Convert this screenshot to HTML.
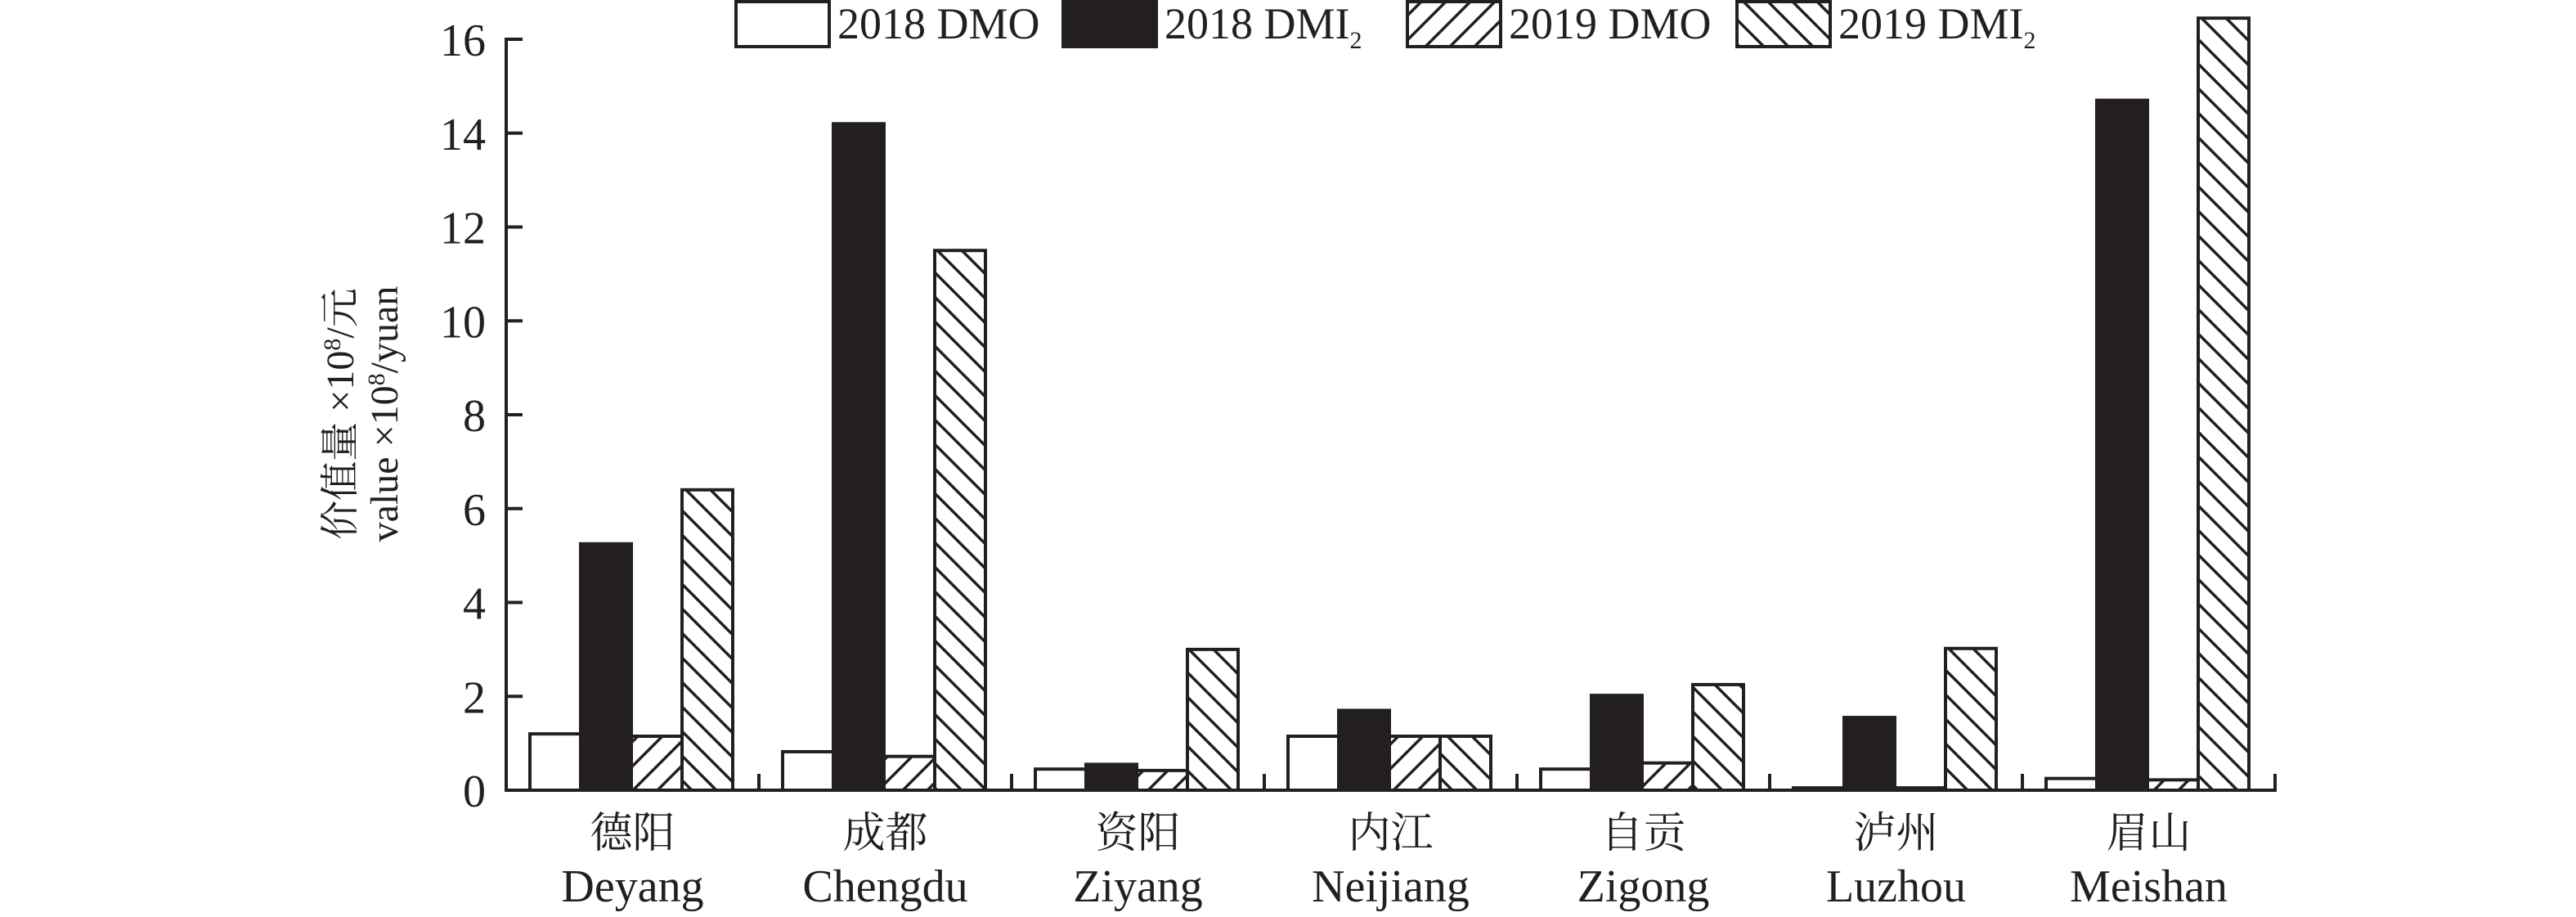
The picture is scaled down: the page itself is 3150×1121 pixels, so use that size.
<!DOCTYPE html>
<html><head><meta charset="utf-8"><style>
html,body{margin:0;padding:0;background:#fff;}
svg{display:block;}
text{font-family:"Liberation Serif","Noto Serif CJK SC",serif;fill:#231f20;}
</style></head><body>
<svg id="chart" width="3150" height="1121" viewBox="0 0 3150 1121">
<defs>
<pattern id="hatchF" patternUnits="userSpaceOnUse" width="30" height="30">
<path d="M-8,8 L8,-8 M0,30 L30,0 M22,38 L38,22" stroke="#231f20" stroke-width="3.5"/>
</pattern>
<pattern id="hatchB" patternUnits="userSpaceOnUse" width="30" height="30">
<path d="M-8,22 L8,38 M0,0 L30,30 M22,-8 L38,8" stroke="#231f20" stroke-width="3.5"/>
</pattern>
</defs>
<g id="plot"></g>
</svg>
<script>
const categoriesZh = ["德阳","成都","资阳","内江","自贡","泸州","眉山"];
const categoriesEn = ["Deyang","Chengdu","Ziyang","Neijiang","Zigong","Luzhou","Meishan"];
const dmo2018 = [1.2, 0.82, 0.45, 1.15, 0.45, 0.05, 0.25];
const dmi2018 = [5.25, 14.2, 0.55, 1.7, 2.02, 1.55, 14.7];
const dmo2019 = [1.15, 0.72, 0.42, 1.15, 0.58, 0.05, 0.22];
const dmi2019 = [6.4, 11.5, 3.0, 1.15, 2.25, 3.02, 16.45];
const yTicks = [0,2,4,6,8,10,12,14,16];

const NS="http://www.w3.org/2000/svg";
const g=document.getElementById('plot');
const X0=619, X1=2782, Y0=966, Y16=48;
const catW=(X1-X0)/categoriesZh.length;
function y(v){return Y0-(v/16)*(Y0-Y16);}
function mk(t,a,p){const e=document.createElementNS(NS,t);for(const k in a)e.setAttribute(k,a[k]);(p||g).appendChild(e);return e;}

const series=[
 {vals:dmo2018,fill:"#fff",name:"2018-dmo"},
 {vals:dmi2018,fill:"#231f20",name:"2018-dmi2"},
 {vals:dmo2019,fill:"url(#hatchF)",name:"2019-dmo"},
 {vals:dmi2019,fill:"url(#hatchB)",name:"2019-dmi2"}];
const barW=62, grpOff=29;
categoriesZh.forEach((c,i)=>{
  const cx=X0+i*catW;
  series.forEach((s,j)=>{
    const v=s.vals[i];
    const r=mk('rect',{x:cx+grpOff+j*barW,y:y(v),width:barW,height:Y0-y(v),fill:s.fill,stroke:"#231f20","stroke-width":4});
    
    
  });
  const t1=mk('text',{x:cx+catW/2,y:1036,'text-anchor':'middle','font-size':52});
  t1.textContent=c;
  
  
  const t2=mk('text',{x:cx+catW/2,y:1102,'text-anchor':'middle','font-size':56});
  t2.textContent=categoriesEn[i];
  
  
  if(i>0){const tk=mk('line',{x1:cx,x2:cx,y1:Y0,y2:Y0-20,stroke:"#231f20","stroke-width":4});
    
    }
});
const ax=mk('path',{d:`M${X0},${Y16-2} L${X0},${Y0} L${X1},${Y0} L${X1},${Y0-20}`,fill:"none",stroke:"#231f20","stroke-width":4});


yTicks.forEach(v=>{
  const l=mk('line',{x1:X0,x2:X0+20,y1:y(v),y2:y(v),stroke:"#231f20","stroke-width":4});
  
  
  const t=mk('text',{x:594,y:y(v)+20,'text-anchor':'end','font-size':56});
  t.textContent=v;
  
  
});
const yt=mk('text',{transform:'translate(432,506) rotate(-90)','text-anchor':'middle','font-size':48});
yt.innerHTML='价值量 ×10<tspan dy="-16" font-size="30">8</tspan><tspan dy="16">/元</tspan>';


const yt2=mk('text',{transform:'translate(486,506) rotate(-90)','text-anchor':'middle','font-size':48});
yt2.innerHTML='value ×10<tspan dy="-16" font-size="30">8</tspan><tspan dy="16">/yuan</tspan>';


const legX=[900,1300,1721,2124];
const legLab=['2018 DMO','2018 DMI','2019 DMO','2019 DMI'];
const legSub=[false,true,false,true];
series.forEach((s,j)=>{
  const r=mk('rect',{x:legX[j],y:2,width:114,height:55,fill:s.fill,stroke:"#231f20","stroke-width":4});
  
  
  const t=mk('text',{x:legX[j]+124,y:47,'font-size':54});
  t.innerHTML=legLab[j]+(legSub[j]?'<tspan dy="12" font-size="30">2</tspan>':'');
  
  
});
</script>
</body></html>
